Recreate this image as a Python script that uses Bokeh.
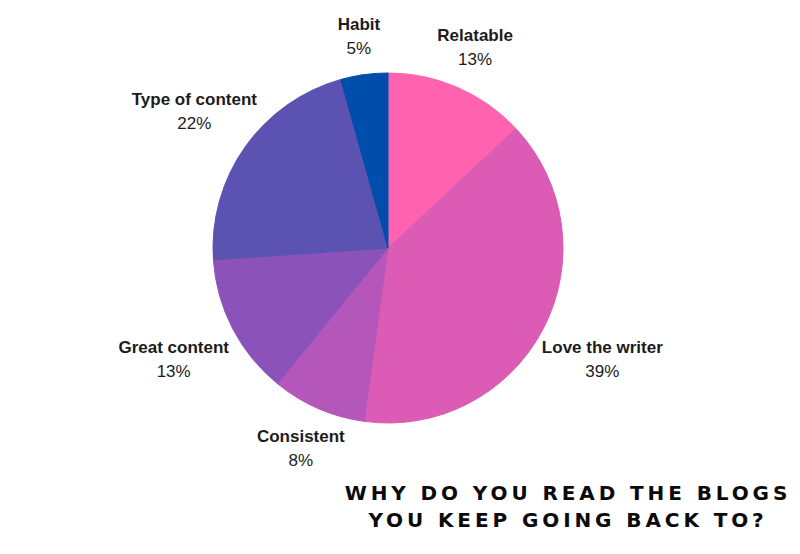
import numpy as np
from bokeh.plotting import figure
from bokeh.models import ColumnDataSource, Range1d, Div
from bokeh.layouts import column
from bokeh.embed import file_html
from bokeh.resources import INLINE
from bokeh.core.properties import value

# ---- data ----
categories = ["Relatable", "Love the writer", "Consistent", "Great content", "Type of content", "Habit"]
responses = [3, 9, 2, 3, 5, 1]          # slice sizes
pct_labels = ["13%", "39%", "8%", "13%", "22%", "5%"]
colors = ["#FF63AF", "#DB5BB5", "#B556BA", "#8B53BA", "#5C52B2", "#004EAB"]
title_lines = ["WHY DO YOU READ THE BLOGS", "YOU KEEP GOING BACK TO?"]

# ---- geometry derived from data ----
frac = np.array(responses, dtype=float) / sum(responses)
cum = np.concatenate([[0.0], np.cumsum(frac)])
start = np.pi / 2 - cum[:-1] * 2 * np.pi
end = np.pi / 2 - cum[1:] * 2 * np.pi
mid = (cum[:-1] + cum[1:]) / 2 * 2 * np.pi  # clockwise from 12 o'clock

R = 175
dist = 213 + 36 * np.sin(mid) ** 2
lx = dist * np.sin(mid)
ly = dist * np.cos(mid)

src = ColumnDataSource(dict(
    start=start, end=end, color=colors, name=categories, pct=pct_labels,
    lx=lx, ly_name=ly + 12, ly_pct=ly - 12,
))

W, H = 800, 480
p = figure(width=W, height=H, output_backend="svg", toolbar_location=None,
           x_range=Range1d(-387.5, W - 387.5), y_range=Range1d(-(H - 247.5), 247.5),
           min_border=0, tools="")
p.axis.visible = False
p.grid.visible = False
p.outline_line_color = None
p.background_fill_color = "white"
p.border_fill_color = "white"

p.wedge(x=0, y=0, radius=R, start_angle="start", end_angle="end", direction="clock",
        fill_color="color", line_color="color", line_width=1, source=src)

p.text(x="lx", y="ly_name", text="name", source=src, text_align="center",
       text_baseline="middle", text_font=value("Liberation Sans"),
       text_font_style="bold", text_font_size="17px", text_color="#1c1c1c")
p.text(x="lx", y="ly_pct", text="pct", source=src, text_align="center",
       text_baseline="middle", text_font=value("Liberation Sans"),
       text_font_size="17px", text_color="#1c1c1c")

title = Div(text="<br>".join(title_lines), width=464, height=74,
            margin=(0, 0, 0, 336),
            styles={"font-family": "DejaVu Sans", "font-weight": "bold",
                    "font-size": "20px", "line-height": "27px",
                    "letter-spacing": "3.9px", "text-align": "center",
                    "color": "#0a0a0a", "width": "464px"})

layout = column(p, title, spacing=0)
open("out.html", "w").write(file_html(layout, INLINE))
